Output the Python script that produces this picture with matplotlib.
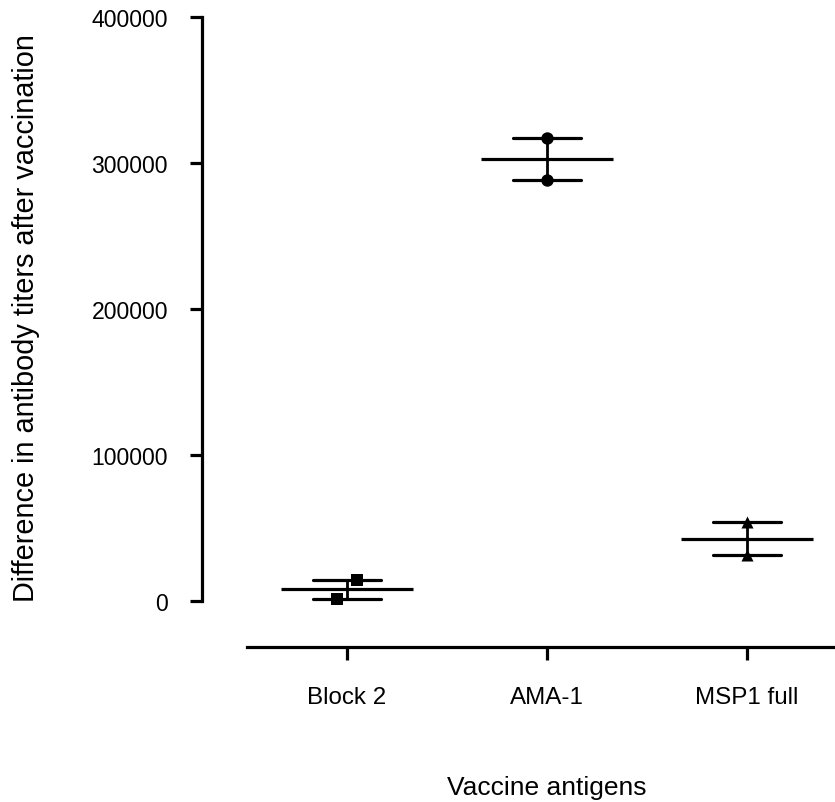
import matplotlib
matplotlib.use("Agg")
import matplotlib.pyplot as plt
import numpy as np

plt.rcParams['font.family'] = ['Liberation Sans', 'DejaVu Sans']

categories = ["Block 2", "AMA-1", "MSP1 full"]
block2_values = [14400, 1400]
ama1_values = [317000, 288400]
msp1_values = [54100, 31500]
y_ticks = [0, 100000, 200000, 300000, 400000]
y_tick_labels = ["0", "100000", "200000", "300000", "400000"]
x_title = "Vaccine antigens"
y_title = "Difference in antibody titers after vaccination"

series = [block2_values, ama1_values, msp1_values]
markers = ["s", "o", "^"]
jitters = [[0.05, -0.05], [0.0, 0.0], [0.0, 0.0]]

W, H = 835, 803
dpi = 100
fig = plt.figure(figsize=(W / dpi, H / dpi), dpi=dpi)

ax_left, ax_right = 247, 847
ax_top, ax_bottom = 18, 648
ax = fig.add_axes([ax_left / W, 1 - ax_bottom / H, (ax_right - ax_left) / W, (ax_bottom - ax_top) / H])
ax.patch.set_alpha(0)

ymax = 400000
ymin = -ymax * (ax_bottom - 602) / (602 - ax_top)
ax.set_xlim(-0.5, 2.5)
ax.set_ylim(ymin, ymax)

lw = 2.3
for i, (vals, m, jit) in enumerate(zip(series, markers, jitters)):
    vals = np.array(vals, dtype=float)
    mean = vals.mean()
    lo, hi = vals.min(), vals.max()
    ax.plot([i - 0.33, i + 0.33], [mean, mean], color='black', lw=lw, solid_capstyle='butt', zorder=3)
    ax.plot([i, i], [lo, hi], color='black', lw=2.0, zorder=3)
    for cap in (lo, hi):
        ax.plot([i - 0.17, i + 0.17], [cap, cap], color='black', lw=lw, solid_capstyle='round', zorder=3)
    ax.scatter(np.array(jit) + i, vals, marker=m, s=75 if m != 'o' else 80, color='black', zorder=4, linewidths=0)

for s in ['top', 'right']:
    ax.spines[s].set_visible(False)
ax.spines['left'].set_position(('outward', 45 * 72 / dpi))
ax.spines['left'].set_bounds(0, ymax)
ax.spines['left'].set_linewidth(2.3)
ax.spines['bottom'].set_linewidth(2.3)

ax.set_yticks(y_ticks)
ax.set_yticklabels(y_tick_labels)
ax.set_xticks(range(len(categories)))
ax.set_xticklabels(categories)
ax.tick_params(axis='y', length=8.5, width=2.3, pad=16, labelsize=16.6)
ax.tick_params(axis='x', length=9, width=2.3, pad=19, labelsize=17.4)

fig.text(547 / W, 1 - 795 / H, x_title, ha='center', va='baseline', fontsize=19)
fig.text(26 / W, 1 - 318 / H, y_title, ha='center', va='center', rotation=90, fontsize=20.8)

fig.savefig("out.png", dpi=dpi)
